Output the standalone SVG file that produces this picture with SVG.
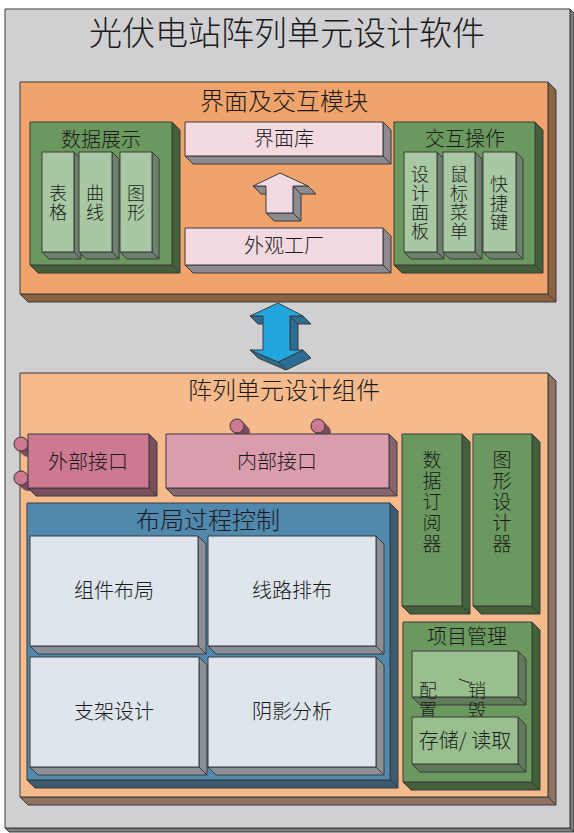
<svg xmlns="http://www.w3.org/2000/svg" width="574" height="833" viewBox="0 0 574 833">
<style>
  .s{stroke:#3a3a3a;stroke-width:1;stroke-linejoin:round}
  text{font-family:"Noto Sans CJK SC","Noto Sans CJK JP",sans-serif;fill:#1a1a1a;text-anchor:middle;font-weight:300}
  .t1{font-size:33px}
  .t2{font-size:24px}
  .t3{font-size:20px}
  .t4{font-size:18px}
  .t5{font-size:19px}
  .gray{fill:#d0d0d2}.grayS{fill:#7f7f82}
  .org{fill:#f0a36b}.orgS{fill:#8b6340}
  .pch{fill:#f5bb8d}.pchS{fill:#8f7360}
  .grn{fill:#6a985e}.grnS{fill:#44603a}
  .lg{fill:#a8c8a3}.lgS{fill:#6f806e}
  .pk{fill:#f3dae0}.pkS{fill:#8d8a90}
  .blu{fill:#5088ae}.bluS{fill:#3c5a70}
  .wh{fill:#dee5ed}.whS{fill:#8b8f96}
  .ext{fill:#cd7991}.extS{fill:#7b4d5d}
  .int{fill:#db9dae}.intS{fill:#876570}
  .pg{fill:#99bf8f}.pgS{fill:#607b5a}
  .ar{fill:#22a6dd}.arS{fill:#2b6d93}
</style>

<!-- outer frame -->
<g id="frame">
  <polygon class="s grayS" points="570,9 574,13 574,832 570,828"/>
  <polygon class="s grayS" points="5,828 570,828 574,832 9,832"/>
  <rect class="s gray" x="5" y="9" width="565" height="819"/>
  <text class="t1" x="287" y="45">光伏电站阵列单元设计软件</text>
</g>

<!-- UI & interaction module -->
<g id="ui-module">
  <polygon class="s orgS" points="548,82 556,90 556,302 548,294"/>
  <polygon class="s orgS" points="20,294 548,294 556,302 28,302"/>
  <rect class="s org" x="20" y="82" width="528" height="212"/>
  <text class="t2" x="284" y="110">界面及交互模块</text>
</g>

<g id="data-display">
  <polygon class="s grnS" points="172,122 180,130 180,273 172,265"/>
  <polygon class="s grnS" points="30,265 172,265 180,273 38,273"/>
  <rect class="s grn" x="30" y="122" width="142" height="143"/>
  <text class="t3" x="101" y="147">数据展示</text>
</g>
<g id="table">
  <polygon class="s lgS" points="74,152 81,159 81,259 74,252"/>
  <polygon class="s lgS" points="42,252 74,252 81,259 49,259"/>
  <rect class="s lg" x="42" y="152" width="32" height="100"/>
  <text class="t4"><tspan x="58" y="200">表</tspan><tspan x="58" y="219">格</tspan></text>
</g>
<g id="curve">
  <polygon class="s lgS" points="112,152 119,159 119,259 112,252"/>
  <polygon class="s lgS" points="79,252 112,252 119,259 86,259"/>
  <rect class="s lg" x="79" y="152" width="33" height="100"/>
  <text class="t4"><tspan x="95" y="200">曲</tspan><tspan x="95" y="219">线</tspan></text>
</g>
<g id="graph">
  <polygon class="s lgS" points="152,152 159,159 159,259 152,252"/>
  <polygon class="s lgS" points="120,252 152,252 159,259 127,259"/>
  <rect class="s lg" x="120" y="152" width="32" height="100"/>
  <text class="t4"><tspan x="136" y="200">图</tspan><tspan x="136" y="219">形</tspan></text>
</g>

<g id="ui-lib">
  <polygon class="s pkS" points="383,122 391,130 391,164 383,156"/>
  <polygon class="s pkS" points="185,156 383,156 391,164 193,164"/>
  <rect class="s pk" x="185" y="122" width="198" height="34"/>
  <text class="t3" x="284" y="146">界面库</text>
</g>
<g id="look-factory">
  <polygon class="s pkS" points="383,228 391,236 391,273 383,265"/>
  <polygon class="s pkS" points="185,265 383,265 391,273 193,273"/>
  <rect class="s pk" x="185" y="228" width="198" height="37"/>
  <text class="t3" x="284" y="253">外观工厂</text>
</g>

<g id="interaction-ops">
  <polygon class="s grnS" points="535,122 543,130 543,273 535,265"/>
  <polygon class="s grnS" points="394,265 535,265 543,273 402,273"/>
  <rect class="s grn" x="394" y="122" width="141" height="143"/>
  <text class="t3" x="465" y="146">交互操作</text>
</g>
<g id="design-panel">
  <polygon class="s lgS" points="437,152 444,159 444,259 437,252"/>
  <polygon class="s lgS" points="404,252 437,252 444,259 411,259"/>
  <rect class="s lg" x="404" y="152" width="33" height="100"/>
  <text class="t4"><tspan x="420" y="181">设</tspan><tspan x="420" y="200">计</tspan><tspan x="420" y="219">面</tspan><tspan x="420" y="238">板</tspan></text>
</g>
<g id="mouse-menu">
  <polygon class="s lgS" points="475,152 482,159 482,259 475,252"/>
  <polygon class="s lgS" points="443,252 475,252 482,259 450,259"/>
  <rect class="s lg" x="443" y="152" width="32" height="100"/>
  <text class="t4"><tspan x="459" y="181">鼠</tspan><tspan x="459" y="200">标</tspan><tspan x="459" y="219">菜</tspan><tspan x="459" y="238">单</tspan></text>
</g>
<g id="shortcut">
  <polygon class="s lgS" points="516,152 523,159 523,259 516,252"/>
  <polygon class="s lgS" points="483,252 516,252 523,259 490,259"/>
  <rect class="s lg" x="483" y="152" width="33" height="100"/>
  <text class="t4"><tspan x="499" y="191">快</tspan><tspan x="499" y="210">捷</tspan><tspan x="499" y="229">键</tspan></text>
</g>

<!-- connectors -->
<g id="connectors">
  <g id="up-arrow">
    <polygon class="s pkS" points="293,186 308,186 316,194 301,194"/>
    <polygon class="s pkS" points="293,186 293,213 301,221 301,194"/>
    <polygon class="s pkS" points="266,213 293,213 301,221 274,221"/>
    <polygon class="s pkS" points="266,186 253,186 261,194 274,194"/>
    <polygon class="s pk" points="280,173 308,186 293,186 293,213 266,213 266,186 253,186"/>
  </g>
  <g id="double-arrow">
    <polygon class="s arS" points="290,316 303,316 311,324 298,324"/>
    <polygon class="s arS" points="290,316 290,350 298,358 298,324"/>
    <polygon class="s arS" points="303,350 278,362 286,370 311,358"/>
    <polygon class="s arS" points="278,362 250,350 258,358 286,370"/>
    <polygon class="s arS" points="263,316 250,316 258,324 271,324"/>
    <polygon class="s ar" points="278,303 303,316 290,316 290,350 303,350 278,362 250,350 263,350 263,316 250,316"/>
  </g>
</g>

<!-- array unit design component -->
<g id="component">
  <polygon class="s pchS" points="548,373 556,381 556,805 548,797"/>
  <polygon class="s pchS" points="20,797 548,797 556,805 28,805"/>
  <rect class="s pch" x="20" y="373" width="528" height="424"/>
  <text class="t2" x="284" y="399">阵列单元设计组件</text>
</g>

<g id="external-interface">
  <line x1="21" y1="444" x2="28" y2="450" stroke="#7b4d5d" stroke-width="14" stroke-linecap="round"/>
  <circle class="s ext" cx="21" cy="444" r="7"/>
  <line x1="21" y1="478" x2="28" y2="484" stroke="#7b4d5d" stroke-width="14" stroke-linecap="round"/>
  <circle class="s ext" cx="21" cy="478" r="7"/>
  <polygon class="s extS" points="149,434 157,442 157,496 149,488"/>
  <polygon class="s extS" points="28,488 149,488 157,496 36,496"/>
  <rect class="s ext" x="28" y="434" width="121" height="54"/>
  <text class="t3" x="88" y="469">外部接口</text>
</g>

<g id="internal-interface">
  <line x1="237" y1="426" x2="243" y2="432" stroke="#7b4d5d" stroke-width="14" stroke-linecap="round"/>
  <circle class="s ext" cx="237" cy="426" r="7"/>
  <line x1="318" y1="426" x2="324" y2="432" stroke="#7b4d5d" stroke-width="14" stroke-linecap="round"/>
  <circle class="s ext" cx="318" cy="426" r="7"/>
  <polygon class="s intS" points="389,434 397,442 397,496 389,488"/>
  <polygon class="s intS" points="166,488 389,488 397,496 174,496"/>
  <rect class="s int" x="166" y="434" width="223" height="54"/>
  <text class="t3" x="277" y="469">内部接口</text>
</g>

<g id="data-subscriber">
  <polygon class="s grnS" points="462,434 470,442 470,614 462,606"/>
  <polygon class="s grnS" points="402,606 462,606 470,614 410,614"/>
  <rect class="s grn" x="402" y="434" width="60" height="172"/>
  <text class="t5"><tspan x="432" y="467">数</tspan><tspan x="432" y="488">据</tspan><tspan x="432" y="509">订</tspan><tspan x="432" y="530">阅</tspan><tspan x="432" y="551">器</tspan></text>
</g>
<g id="graph-designer">
  <polygon class="s grnS" points="532,434 540,442 540,614 532,606"/>
  <polygon class="s grnS" points="473,606 532,606 540,614 481,614"/>
  <rect class="s grn" x="473" y="434" width="59" height="172"/>
  <text class="t5"><tspan x="502" y="467">图</tspan><tspan x="502" y="488">形</tspan><tspan x="502" y="509">设</tspan><tspan x="502" y="530">计</tspan><tspan x="502" y="551">器</tspan></text>
</g>

<g id="project-mgmt">
  <polygon class="s grnS" points="532,622 540,630 540,790 532,782"/>
  <polygon class="s grnS" points="403,782 532,782 540,790 411,790"/>
  <rect class="s grn" x="403" y="622" width="129" height="160"/>
  <text class="t3" x="467" y="644">项目管理</text>
</g>
<g id="config-destroy">
  <polygon class="s pgS" points="518,651 526,659 526,705 518,697"/>
  <polygon class="s pgS" points="412,697 518,697 526,705 420,705"/>
  <rect class="s pg" x="412" y="651" width="106" height="46"/>
  <text class="t4"><tspan x="428" y="697">配</tspan><tspan x="428" y="717">置</tspan></text>
  <text class="t4"><tspan x="477" y="697">销</tspan><tspan x="477" y="717">毁</tspan></text>
  <line x1="459" y1="679" x2="470" y2="683" stroke="#1a1a1a" stroke-width="1"/>
</g>
<g id="store-read">
  <polygon class="s pgS" points="518,717 526,725 526,772 518,764"/>
  <polygon class="s pgS" points="412,764 518,764 526,772 420,772"/>
  <rect class="s pg" x="412" y="717" width="106" height="47"/>
  <text class="t3" x="465" y="748">存储/ 读取</text>
</g>

<g id="layout-control">
  <polygon class="s bluS" points="390,503 398,511 398,788 390,780"/>
  <polygon class="s bluS" points="27,780 390,780 398,788 35,788"/>
  <rect class="s blu" x="27" y="503" width="363" height="277"/>
  <text class="t2" x="208" y="529">布局过程控制</text>
</g>
<g id="component-layout">
  <polygon class="s whS" points="198,536 206,544 206,654 198,646"/>
  <polygon class="s whS" points="30,646 198,646 206,654 38,654"/>
  <rect class="s wh" x="30" y="536" width="168" height="110"/>
  <text class="t3" x="114" y="598">组件布局</text>
</g>
<g id="wiring">
  <polygon class="s whS" points="376,536 384,544 384,654 376,646"/>
  <polygon class="s whS" points="208,646 376,646 384,654 216,654"/>
  <rect class="s wh" x="208" y="536" width="168" height="110"/>
  <text class="t3" x="292" y="598">线路排布</text>
</g>
<g id="bracket-design">
  <polygon class="s whS" points="199,657 207,665 207,775 199,767"/>
  <polygon class="s whS" points="30,767 199,767 207,775 38,775"/>
  <rect class="s wh" x="30" y="657" width="169" height="110"/>
  <text class="t3" x="114" y="719">支架设计</text>
</g>
<g id="shadow-analysis">
  <polygon class="s whS" points="376,657 384,665 384,775 376,767"/>
  <polygon class="s whS" points="208,767 376,767 384,775 216,775"/>
  <rect class="s wh" x="208" y="657" width="168" height="110"/>
  <text class="t3" x="292" y="719">阴影分析</text>
</g>
</svg>
